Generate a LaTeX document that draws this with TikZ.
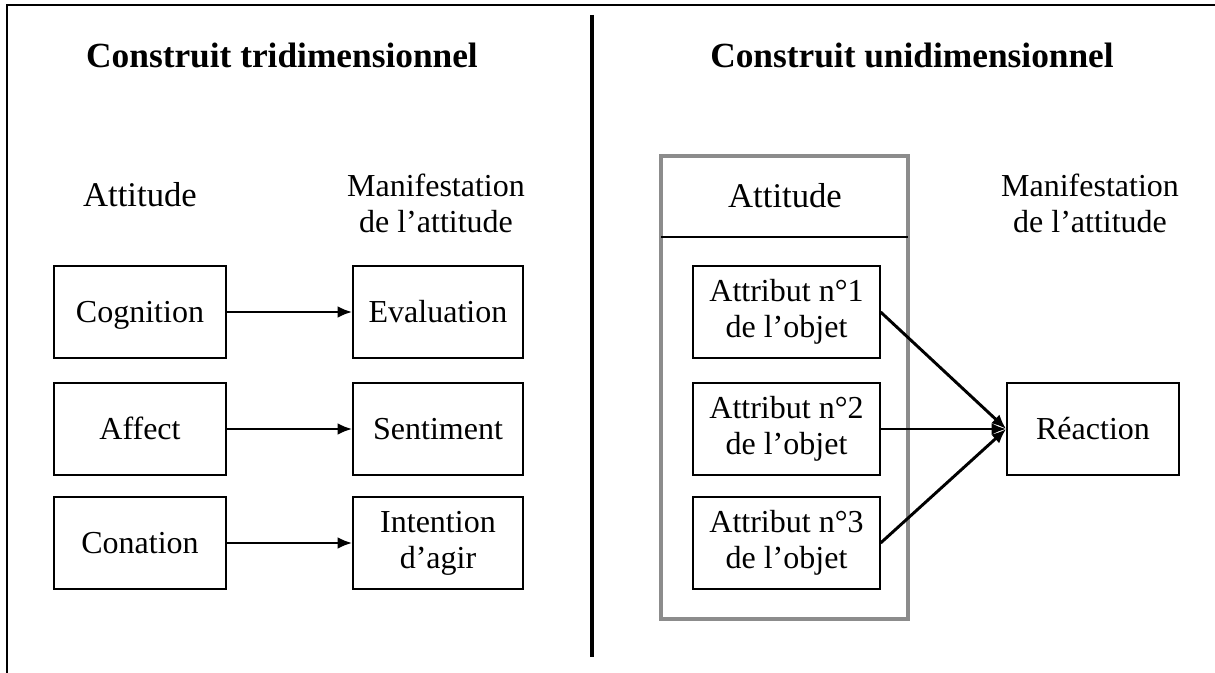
\documentclass[tikz,border=0pt]{standalone}
\usepackage{fontspec}
\setmainfont{Liberation Serif}
\usetikzlibrary{arrows.meta}

\tikzset{
  box/.style={draw, line width=1.2pt, inner sep=0pt, align=center,
    minimum width=129pt, minimum height=69pt,
    font=\fontsize{24}{27}\selectfont},
  oneline/.style={text height=18pt, text depth=1.5pt},
  txt/.style={align=center, font=\fontsize{24}{27}\selectfont},
  heading/.style={font=\fontsize{26.5}{30}\selectfont\bfseries},
  conn/.style={line width=2.2pt, -{Latex[length=11pt,width=9pt]}}
}

\begin{document}
\begin{tikzpicture}[x=0.75pt,y=-0.75pt]
\def\grayframe{(661,156) rectangle (908,619)}

\useasboundingbox (0,0) rectangle (1215,673);

% frame and divider
\draw[line width=1.5pt] (7,673) -- (7,5.5) -- (1215,5.5);
\draw[line width=3.5pt] (592,15) -- (592,657);

\node (tleft) at (282,55) [heading] {Construit tridimensionnel};
\node (tright) at (912,55) [heading] {Construit unidimensionnel};

% left part
\node (attl) at (140,195) [txt, font=\fontsize{26}{30}\selectfont] {Attitude};
\node (manl) at (436,203) [txt] {Manifestation\\de l’attitude};

\node (cog) at (140,312) [box, oneline] {Cognition};
\node (aff) at (140,429) [box, oneline] {Affect};
\node (con) at (140,543) [box, oneline] {Conation};

\node (eva) at (438,312) [box, oneline, minimum width=127.5pt] {Evaluation};
\node (sen) at (438,429) [box, oneline, minimum width=127.5pt] {Sentiment};
\node (int) at (438,543) [box, minimum width=127.5pt] {Intention\\d’agir};

\draw[conn] (cog) -- (eva);
\draw[conn] (aff) -- (sen);
\draw[conn] (con) -- (int);

% right part
\draw[line width=3pt, gray!90] \grayframe;
\draw[line width=1.2pt] (661,237) -- (908,237);

\node (attr) at (785,196) [txt, font=\fontsize{26}{30}\selectfont] {Attitude};
\node (manr) at (1090,203) [txt] {Manifestation\\de l’attitude};

\node (at1) at (786.5,312) [box, minimum width=140pt] {Attribut n°1\\de l’objet};
\node (at2) at (786.5,429) [box, minimum width=140pt] {Attribut n°2\\de l’objet};
\node (at3) at (786.5,543) [box, minimum width=140pt] {Attribut n°3\\de l’objet};

\node (rea) at (1093,429) [box, oneline] {Réaction};

\draw[conn] (at1.east) -- (rea.west);
\draw[conn] (at2.east) -- (rea.west);
\draw[conn] (at3.east) -- (rea.west);
\end{tikzpicture}
\end{document}
